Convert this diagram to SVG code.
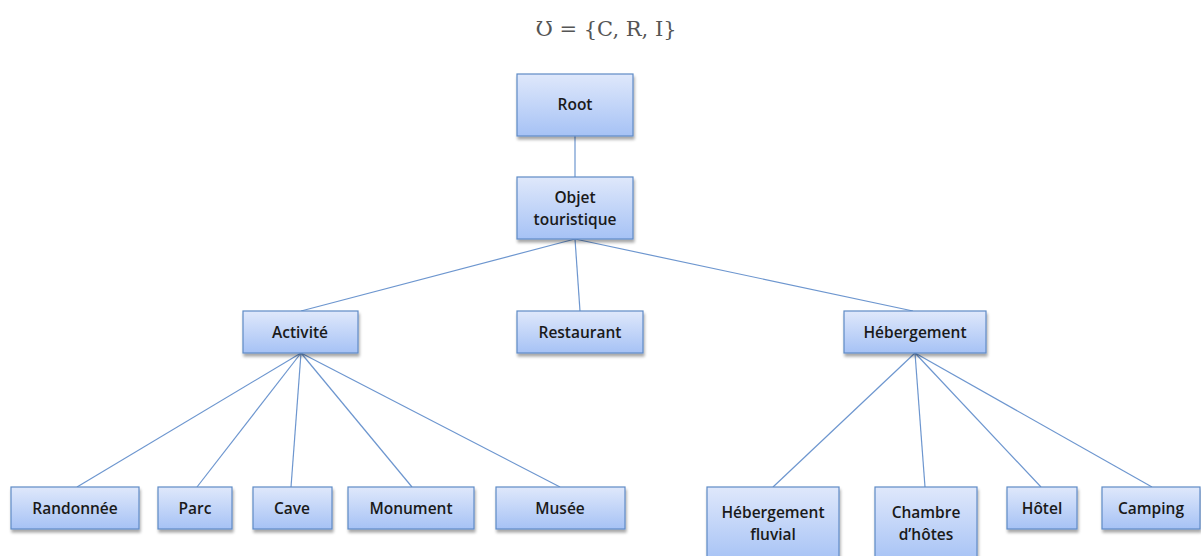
<svg xmlns="http://www.w3.org/2000/svg" width="1201" height="556" viewBox="0 0 1201 556">
<defs>
<linearGradient id="g" x1="0" y1="0" x2="0" y2="1">
<stop offset="0" stop-color="#dfe8fb"/>
<stop offset="1" stop-color="#a6c2f5"/>
</linearGradient>
<filter id="sh" x="-10%" y="-10%" width="130%" height="140%">
<feGaussianBlur in="SourceAlpha" stdDeviation="1.5"/>
<feOffset dx="1" dy="3" result="b"/>
<feComponentTransfer><feFuncA type="linear" slope="0.35"/></feComponentTransfer>
<feMerge><feMergeNode/><feMergeNode in="SourceGraphic"/></feMerge>
</filter>
</defs>
<style>
.n rect{fill:url(#g);stroke:#5f8bc6;stroke-width:1.2;filter:url(#sh)}
.n text{font-family:"Open Sans","Noto Sans",sans-serif;font-size:15.5px;font-weight:600;fill:#1a1a1a;text-anchor:middle}
.c line{stroke:#6d96cf;stroke-width:1.2}
.f{font-family:"DejaVu Serif","Liberation Serif",serif;font-size:21px;fill:#555;text-anchor:middle}
</style>
<rect width="1201" height="556" fill="#fff"/>
<text class="f" x="606" y="36">Ʊ = {C, R, I}</text>
<g class="c" id="connectors">
<line x1="575" y1="136" x2="575" y2="177"/>
<line x1="575" y1="239" x2="301" y2="311"/>
<line x1="575" y1="239" x2="580" y2="311"/>
<line x1="575" y1="239" x2="913" y2="311"/>
<line x1="301" y1="353" x2="77" y2="487"/>
<line x1="301" y1="353" x2="197" y2="487"/>
<line x1="301" y1="353" x2="291" y2="487"/>
<line x1="301" y1="353" x2="412" y2="487"/>
<line x1="301" y1="353" x2="560" y2="487"/>
<line x1="915" y1="353" x2="773" y2="487"/>
<line x1="915" y1="353" x2="925" y2="487"/>
<line x1="915" y1="353" x2="1041" y2="487"/>
<line x1="915" y1="353" x2="1152" y2="487"/>
</g>
<g class="n" id="root"><rect x="517" y="74" width="116" height="62"/><text x="575" y="110">Root</text></g>
<g class="n" id="objet"><rect x="517" y="177" width="116" height="62"/><text x="575" y="203">Objet</text><text x="575" y="225">touristique</text></g>
<g class="n" id="activite"><rect x="243" y="311" width="115" height="42"/><text x="300" y="338">Activité</text></g>
<g class="n" id="restaurant"><rect x="517" y="311" width="126" height="42"/><text x="580" y="338">Restaurant</text></g>
<g class="n" id="hebergement"><rect x="844" y="311" width="142" height="42"/><text x="915" y="338">Hébergement</text></g>
<g class="n" id="randonnee"><rect x="11" y="487" width="128" height="42"/><text x="75" y="514">Randonnée</text></g>
<g class="n" id="parc"><rect x="158" y="487" width="74" height="42"/><text x="195" y="514">Parc</text></g>
<g class="n" id="cave"><rect x="253" y="487" width="79" height="42"/><text x="292" y="514">Cave</text></g>
<g class="n" id="monument"><rect x="348" y="487" width="126" height="42"/><text x="411" y="514">Monument</text></g>
<g class="n" id="musee"><rect x="496" y="487" width="129" height="42"/><text x="560" y="514">Musée</text></g>
<g class="n" id="fluvial"><rect x="707" y="487" width="132" height="75"/><text x="773" y="518">Hébergement</text><text x="773" y="540">fluvial</text></g>
<g class="n" id="chambre"><rect x="875" y="487" width="102" height="75"/><text x="926" y="518">Chambre</text><text x="926" y="540">d’hôtes</text></g>
<g class="n" id="hotel"><rect x="1007" y="487" width="70" height="42"/><text x="1042" y="514">Hôtel</text></g>
<g class="n" id="camping"><rect x="1102" y="487" width="98" height="42"/><text x="1151" y="514">Camping</text></g>
</svg>
